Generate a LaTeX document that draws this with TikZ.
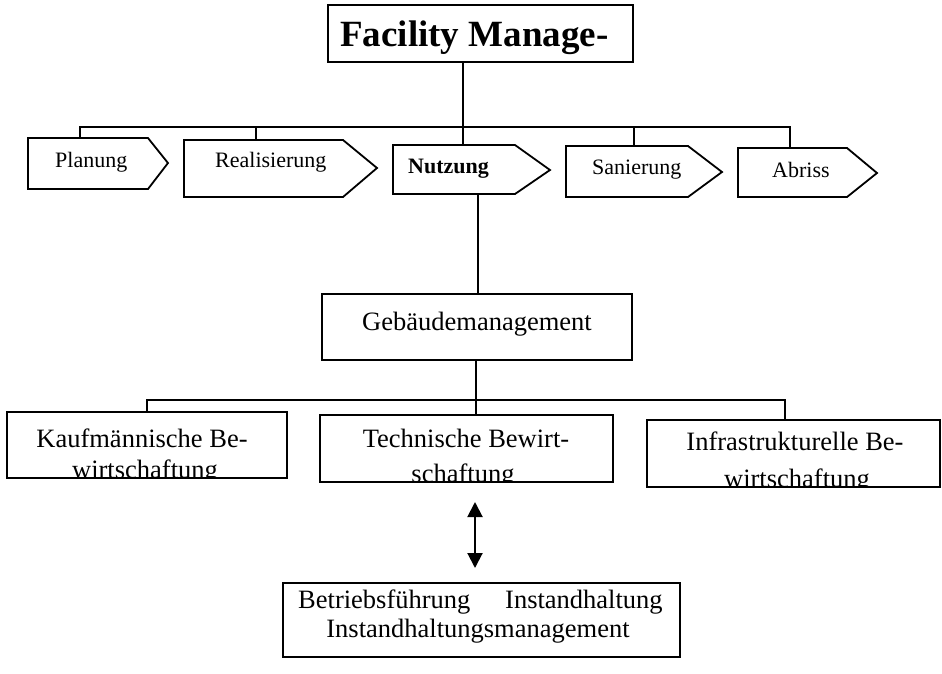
\documentclass[tikz,border=0pt]{standalone}
\usepackage{fontspec}
\setmainfont{Liberation Serif}
\usetikzlibrary{arrows.meta}

\tikzset{
  box/.style={draw, line width=1.8pt, inner sep=0pt},
  phase/.style={draw, line width=1.8pt, line join=miter},
  link/.style={line width=1.5pt},
  small/.style={font=\fontsize{22}{26}\selectfont, inner sep=0pt},
  mid/.style={font=\fontsize{26.5}{29}\selectfont, inner sep=0pt},
  big/.style={font=\fontsize{37}{40}\selectfont\bfseries, inner sep=0pt},
  dbl/.style={line width=2pt, {Triangle[width=15pt,length=15pt]}-{Triangle[width=15pt,length=15pt]}}
}

\begin{document}
\begin{tikzpicture}[x=1pt, y=-1pt]
  \useasboundingbox (0,0) rectangle (942,673);

  % top box
  \node[box, minimum width=305pt, minimum height=57pt] (fm) at (480.5,33.5) {};
  \node[big, anchor=base west] (fmtext) at (340,46) {Facility Manage-};

  % life-cycle phases
  \draw[phase] (28,138) -- (148,138) -- (168,163) -- (148,189) -- (28,189) -- cycle;
  \draw[phase] (184,140) -- (343,140) -- (377,168) -- (343,197) -- (184,197) -- cycle;
  \draw[phase] (393,145) -- (515,145) -- (550,170) -- (515,194) -- (393,194) -- cycle;
  \draw[phase] (566,146) -- (688,146) -- (722,172) -- (688,197) -- (566,197) -- cycle;
  \draw[phase] (738,148) -- (847,148) -- (877,173) -- (847,197) -- (738,197) -- cycle;

  \node[small, anchor=base west] (pl) at (55,167) {Planung};
  \node[small, anchor=base west] (re) at (215,167) {Realisierung};
  \node[small, anchor=base west, font=\fontsize{22}{26}\selectfont\bfseries] (nu) at (408,173) {Nutzung};
  \node[small, anchor=base west] (sa) at (592,174) {Sanierung};
  \node[small, anchor=base west] (ab) at (772,177) {Abriss};

  \coordinate (pltop) at (80,138);
  \coordinate (retop) at (256,140);
  \coordinate (nutop) at (463,145);
  \coordinate (satop) at (634,146);
  \coordinate (abtop) at (790,148);
  \coordinate (bus1) at (463,127);
  \coordinate (nubot) at (478,194);

  \draw[link] (nutop |- fm.south) -- (nutop);
  \draw[link] (pltop) |- (bus1) -| (abtop);
  \draw[link] (retop) -- (retop |- bus1);
  \draw[link] (satop) -- (satop |- bus1);

  % building management
  \node[box, minimum width=310pt, minimum height=66pt] (geb) at (477,327) {};
  \node[mid, anchor=base] (gebtext) at (477,330) {Gebäudemanagement};
  \draw[link] (nubot) -- (nubot |- geb.north);

  % management areas
  \node[box, minimum width=280pt, minimum height=66pt] (kauf) at (147,445) {};
  \node[box, minimum width=293pt, minimum height=67pt] (tech) at (466.5,448.5) {};
  \node[box, minimum width=293pt, minimum height=67pt] (infra) at (793.5,453.5) {};

  \node[mid, anchor=base] (kauf1) at (142,447) {Kaufmännische Be-};
  \node[mid, anchor=base] (tech1) at (466,447) {Technische Bewirt-};
  \node[mid, anchor=base] (infra1) at (795,450) {Infrastrukturelle Be-};
  \begin{scope}
    \clip (kauf.south west) rectangle (kauf.north east);
    \node[mid, anchor=base] (kauf2) at (145,478.5) {wirtschaftung};
  \end{scope}
  \begin{scope}
    \clip (tech.south west) rectangle (tech.north east);
    \node[mid, anchor=base] (tech2) at (463,482.5) {schaftung};
  \end{scope}
  \begin{scope}
    \clip (infra.south west) rectangle (infra.north east);
    \node[mid, anchor=base] (infra2) at (797,487.5) {wirtschaftung};
  \end{scope}

  \coordinate (gebout) at (476,360);
  \coordinate (bus2) at (476,400);
  \coordinate (kauftop) at (147,412);
  \coordinate (infratop) at (785,420);
  \draw[link] (gebout) -- (gebout |- tech.north);
  \draw[link] (kauftop) |- (bus2) -| (infratop);

  % technical tasks
  \node[box, minimum width=397pt, minimum height=74pt] (tasks) at (481.5,620) {};
  \node[mid, anchor=base west] (t1) at (298,608) {Betriebsführung};
  \node[mid, anchor=base west] (t2) at (505,608) {Instandhaltung};
  \node[mid, anchor=base] (t3) at (478,637) {Instandhaltungsmanagement};

  \coordinate (a1) at (475,502);
  \coordinate (a2) at (475,568);
  \draw[dbl] (a1) -- (a2);
\end{tikzpicture}
\end{document}
